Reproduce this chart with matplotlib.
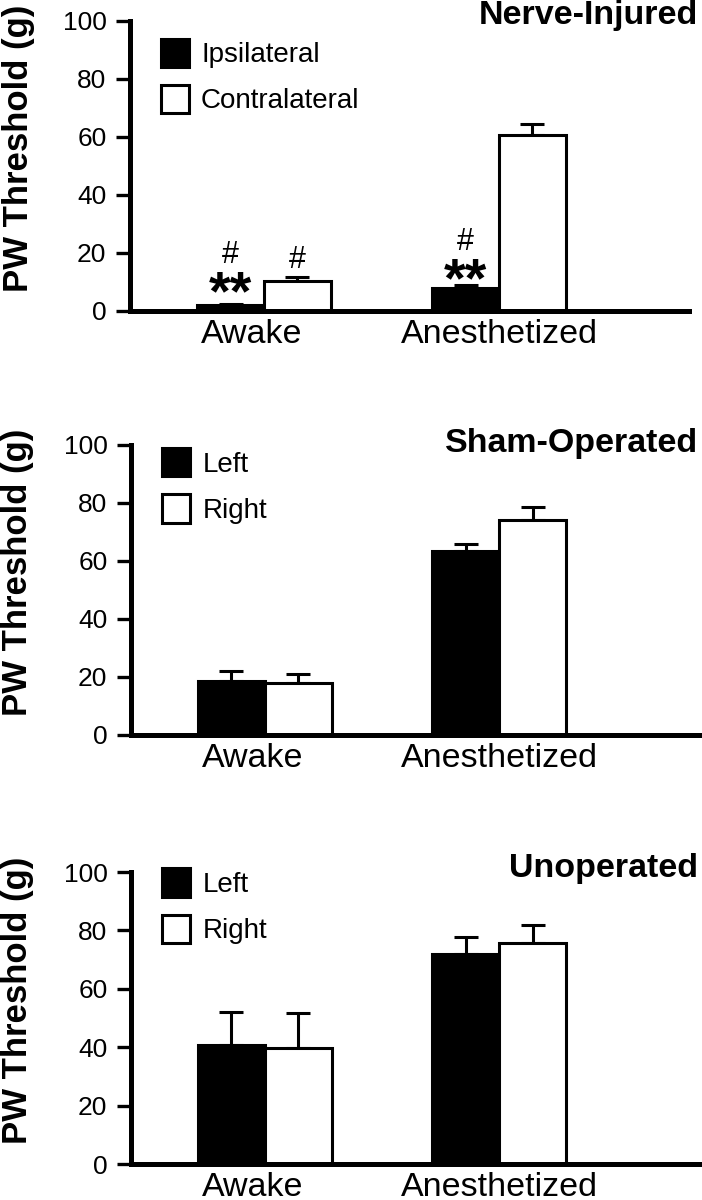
import numpy as np
import matplotlib
matplotlib.use("Agg")
import matplotlib.pyplot as plt
from matplotlib.patches import Patch
from matplotlib.transforms import ScaledTranslation

plt.rcParams['font.family'] = ['Liberation Sans', 'DejaVu Sans']

# ---- data ----
groups = ["Awake", "Anesthetized"]

titles = ["Nerve-Injured", "Sham-Operated", "Unoperated"]
legend_labels = [["Ipsilateral", "Contralateral"], ["Left", "Right"], ["Left", "Right"]]

# black bars (ipsilateral / left)
black_vals = [[2.0, 7.9], [18.6, 63.4], [40.8, 72.0]]
black_err = [[0.3, 0.9], [3.4, 2.4], [11.4, 5.7]]
# white bars (contralateral / right)
white_vals = [[10.2, 60.6], [17.9, 74.2], [39.6, 75.8]]
white_err = [[1.5, 3.8], [3.2, 4.4], [12.1, 5.9]]

# significance marks on the nerve-injured panel: (group, bar side, text, baseline y)
marks = [
    (0, "black", "#", 16.4),
    (0, "black", "**", 0.6),
    (0, "white", "#", 14.7),
    (1, "black", "#", 20.9),
    (1, "black", "**", 5.2),
]

# ---- layout (pixels of a 702 x 1200 canvas) ----
W, H = 702, 1200
panels_px = [(130, 689, 20.5, 311), (131, 702, 445, 735), (131, 702, 872, 1164)]
title_base = [24, 452, 877]
legend_top = [0.938, 0.99, 1.012]

bar_w = 0.285
xc = np.arange(len(groups))

fig = plt.figure(figsize=(W / 100, H / 100), dpi=100)

for i in range(3):
    l, r, t, b = panels_px[i]
    ax = fig.add_axes([l / W, 1 - b / H, (r - l) / W, (b - t) / H])
    x_left = -134 / 235.0
    x_right = (r - 264) / 235.0
    ax.set_xlim(x_left, x_right)
    ax.set_ylim(0, 100)

    xb = xc - bar_w / 2
    xw = xc + bar_w / 2
    ax.bar(xb, black_vals[i], width=bar_w, color="black", edgecolor="black",
           linewidth=2.2, zorder=2)
    ax.bar(xw, white_vals[i], width=bar_w, color="white", edgecolor="black",
           linewidth=2.2, zorder=2)
    ax.errorbar(xb, black_vals[i], yerr=[np.zeros(2), black_err[i]], fmt="none",
                ecolor="black", elinewidth=2.2, capsize=8.5, capthick=2.2, zorder=1)
    ax.errorbar(xw, white_vals[i], yerr=[np.zeros(2), white_err[i]], fmt="none",
                ecolor="black", elinewidth=2.2, capsize=8.5, capthick=2.2, zorder=1)

    for s in ["top", "right"]:
        ax.spines[s].set_visible(False)
    for s in ["left", "bottom"]:
        ax.spines[s].set_linewidth(3.6)
        ax.spines[s].set_zorder(3)

    ax.set_yticks([0, 20, 40, 60, 80, 100])
    ax.tick_params(axis="y", length=10, width=2.4, pad=7, labelsize=19)
    ax.set_xticks(xc)
    ax.set_xticklabels(groups, fontsize=24.5)
    ax.tick_params(axis="x", length=0, pad=5.5)
    # the "Awake" label sits a little left of its group centre in the original
    lab0 = ax.get_xticklabels()[0]
    lab0.set_transform(lab0.get_transform() + ScaledTranslation(-0.12, 0, fig.dpi_scale_trans))

    ax.set_ylabel("PW Threshold (g)", fontsize=25, fontweight="bold")
    ax.yaxis.set_label_coords(-0.17, 0.56)

    handles = [Patch(facecolor="black", edgecolor="black", linewidth=2.2),
               Patch(facecolor="white", edgecolor="black", linewidth=2.2)]
    ax.legend(handles, legend_labels[i], loc="upper left",
              bbox_to_anchor=(0.055, legend_top[i]), frameon=False, fontsize=20,
              handlelength=1.0, handleheight=1.2, handletextpad=0.45,
              labelspacing=0.6, borderpad=0, borderaxespad=0)

    fig.text(698 / W, 1 - title_base[i] / H, titles[i], ha="right", va="baseline",
             fontsize=24.5, fontweight="bold")

    if i == 0:
        for g, side, txt, y in marks:
            x = xb[g] if side == "black" else xw[g]
            if txt == "#":
                ax.text(x, y, txt, ha="center", va="baseline", fontsize=22)
            else:
                ax.text(x, y, txt, ha="center", va="baseline", fontsize=40,
                        fontweight="bold", clip_on=False)

fig.savefig("out.png", dpi=100)
